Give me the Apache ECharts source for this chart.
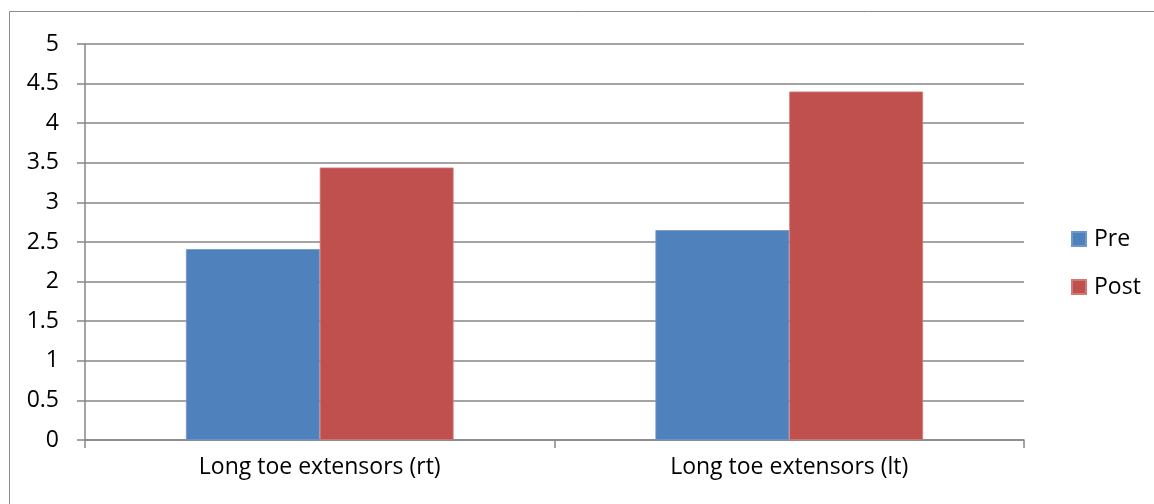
<!DOCTYPE html>
<html>
<head>
<meta charset="utf-8">
<script src="https://cdn.jsdelivr.net/npm/echarts@6/dist/echarts.min.js"></script>
<style>
  html, body { margin: 0; padding: 0; background: #fff; }
  #chart { width: 1154px; height: 504px; }
</style>
</head>
<body>
<div id="chart"></div>
<script>
// Muscle strength scores before and after treatment
const categories = ['Long toe extensors (rt)', 'Long toe extensors (lt)'];
const preValues = [2.41, 2.65];
const postValues = [3.44, 4.40];
const seriesNames = ['Pre', 'Post'];

const FONT = 'Open Sans';
const chart = echarts.init(document.getElementById('chart'), null, { renderer: 'canvas' });

chart.setOption({
  animation: false,
  backgroundColor: '#ffffff',
  textStyle: { fontFamily: FONT, color: '#000' },
  graphic: [{
    type: 'rect',
    shape: { x: 9.5, y: 11.5, width: 1300, height: 600 },
    style: { fill: 'none', stroke: '#8c8c8c', lineWidth: 1 },
    silent: true
  }],
  grid: { left: 85, right: 130, top: 44, bottom: 64 },
  legend: {
    orient: 'vertical',
    left: 1066,
    top: 219,
    itemWidth: 14,
    itemHeight: 14,
    itemGap: 18,
    icon: 'rect',
    textStyle: { fontFamily: FONT, fontSize: 23, lineHeight: 30, color: '#000', padding: [0, 0, 0, 3] },
    data: seriesNames
  },
  xAxis: {
    type: 'category',
    data: categories,
    axisLine: { lineStyle: { color: '#868686', width: 1.5 } },
    axisTick: { show: true, length: 8, lineStyle: { color: '#868686', width: 1.5 } },
    axisLabel: { fontFamily: FONT, fontSize: 23, color: '#000', margin: 16 }
  },
  yAxis: {
    type: 'value',
    min: 0,
    max: 5,
    interval: 0.5,
    axisLine: { show: true, lineStyle: { color: '#868686', width: 1.5 } },
    axisTick: { show: true, length: 8, lineStyle: { color: '#868686', width: 1.5 } },
    splitLine: { show: true, lineStyle: { color: '#868686', width: 1.5 } },
    axisLabel: { fontFamily: FONT, fontSize: 23, color: '#000', margin: 26 }
  },
  series: [
    {
      name: seriesNames[0],
      type: 'bar',
      data: preValues,
      barGap: '0%',
      barCategoryGap: '43%',
      itemStyle: { color: '#4F81BD', borderColor: '#6f97cb', borderWidth: 0.8 }
    },
    {
      name: seriesNames[1],
      type: 'bar',
      data: postValues,
      barGap: '0%',
      barCategoryGap: '43%',
      itemStyle: { color: '#C0504D', borderColor: '#d27875', borderWidth: 0.8 }
    }
  ]
});
</script>
</body>
</html>
